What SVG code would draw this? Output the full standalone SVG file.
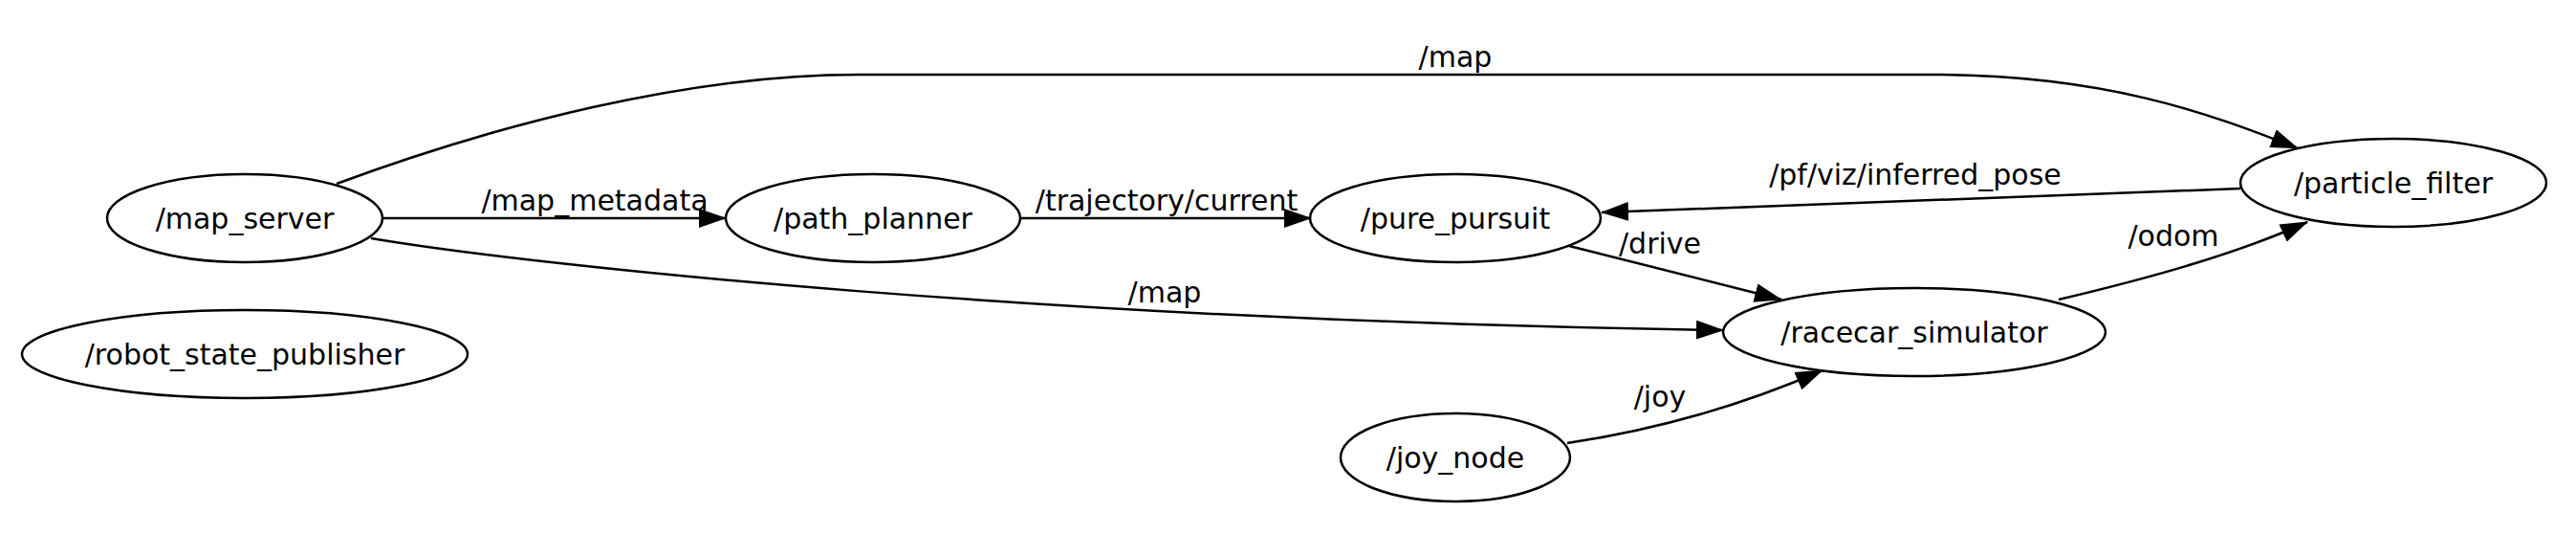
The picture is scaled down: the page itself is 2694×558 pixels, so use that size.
<svg xmlns="http://www.w3.org/2000/svg" width="2694" height="558" viewBox="0 0 2694 558">
<defs>
<style>
.n ellipse{fill:none;stroke:#000;stroke-width:2.5}
text{font-family:"DejaVu Sans","Liberation Sans",sans-serif;font-size:30px;fill:#000;text-anchor:middle}
.e path{fill:none;stroke:#000;stroke-width:2.5}
</style>
<marker id="ah" viewBox="0 0 29 20" refX="28" refY="10" markerWidth="29" markerHeight="20" markerUnits="userSpaceOnUse" orient="auto">
<path d="M0,0 L29,10 L0,20 z" fill="#000"/>
</marker>
</defs>
<rect width="2694" height="558" fill="#fff"/>
<g id="edges" class="e">
<path d="M400,228 L759,228" marker-end="url(#ah)"/>
<path d="M1067,228 L1371,228" marker-end="url(#ah)"/>
<path d="M2343,197 L1675,222" marker-end="url(#ah)"/>
<path d="M1641,257 L1863,313" marker-end="url(#ah)"/>
<path d="M388,249 C560,278 1100,335 1802,345" marker-end="url(#ah)"/>
<path d="M352,192 C520,130 720,78 897,78 L2019,78 C2200,78 2310,118 2403,155" marker-end="url(#ah)"/>
<path d="M2153,313 C2250,290 2340,265 2413,232" marker-end="url(#ah)"/>
<path d="M1639,463 C1740,448 1830,420 1906,387" marker-end="url(#ah)"/>
<text x="622" y="220">/map_metadata</text>
<text x="1220" y="220">/trajectory/current</text>
<text x="2003" y="193">/pf/viz/inferred_pose</text>
<text x="1736" y="265">/drive</text>
<text x="1218" y="316">/map</text>
<text x="1522" y="70">/map</text>
<text x="2273" y="257">/odom</text>
<text x="1736" y="425">/joy</text>
</g>
<g id="map_server" class="n"><ellipse cx="256" cy="228" rx="144" ry="46"/><text x="256" y="239">/map_server</text></g>
<g id="robot_state_publisher" class="n"><ellipse cx="256" cy="370" rx="233" ry="46"/><text x="256" y="381">/robot_state_publisher</text></g>
<g id="path_planner" class="n"><ellipse cx="913" cy="228" rx="154" ry="46"/><text x="913" y="239">/path_planner</text></g>
<g id="pure_pursuit" class="n"><ellipse cx="1522" cy="228" rx="152" ry="46"/><text x="1522" y="239">/pure_pursuit</text></g>
<g id="particle_filter" class="n"><ellipse cx="2503" cy="191" rx="160" ry="46"/><text x="2503" y="202">/particle_filter</text></g>
<g id="racecar_simulator" class="n"><ellipse cx="2002" cy="347" rx="200" ry="46"/><text x="2002" y="358">/racecar_simulator</text></g>
<g id="joy_node" class="n"><ellipse cx="1522" cy="478" rx="120" ry="46"/><text x="1522" y="489">/joy_node</text></g>
</svg>
